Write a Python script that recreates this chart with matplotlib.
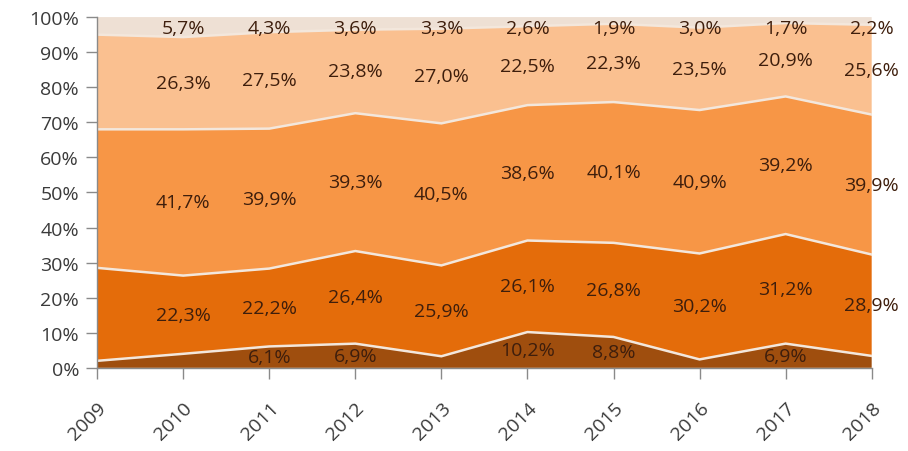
import matplotlib.pyplot as plt
import numpy as np

# ----------------------------
# Data (shares in %)
# ----------------------------
years = [2009, 2010, 2011, 2012, 2013, 2014, 2015, 2016, 2017, 2018]

layer1 = [2.0, 4.0, 6.1, 6.9, 3.3, 10.2, 8.8, 2.4, 6.9, 3.4]        # bottom, dark brown
layer2 = [26.5, 22.3, 22.2, 26.4, 25.9, 26.1, 26.8, 30.2, 31.2, 28.9]
layer3 = [39.5, 41.7, 39.9, 39.3, 40.5, 38.6, 40.1, 40.9, 39.2, 39.9]
layer4 = [27.0, 26.3, 27.5, 23.8, 27.0, 22.5, 22.3, 23.5, 20.9, 25.6]
layer5 = [5.0, 5.7, 4.3, 3.6, 3.3, 2.6, 1.9, 3.0, 1.7, 2.2]          # top, light

y_ticks = [0, 10, 20, 30, 40, 50, 60, 70, 80, 90, 100]

colors = ['#9F4E0E', '#E46C0A', '#F79646', '#FAC090', '#EEE0D4']
line_color = '#F3E7DC'
text_color = '#3E1E0C'
tick_color = '#3A3A3A'

layers = np.array([layer1, layer2, layer3, layer4, layer5], dtype=float)
# 100% stacked
layers = layers / layers.sum(axis=0) * 100
raw = np.array([layer1, layer2, layer3, layer4, layer5])

fig = plt.figure(figsize=(9.08, 4.52), dpi=100)
ax = fig.add_axes([0.107, 0.184, 0.853, 0.776])

ax.stackplot(years, layers, colors=colors, linewidth=0)

# separator lines between layers
cum = np.cumsum(layers, axis=0)
for k in range(4):
    ax.plot(years, cum[k], color=line_color, linewidth=1.8, solid_joinstyle='miter')

# data labels (no labels on the first year, bottom layer only if wide enough)
bottoms = np.vstack([np.zeros(len(years)), cum[:-1]])
for k in range(5):
    for i in range(1, len(years)):
        val = raw[k, i]
        if k == 0 and val < 5:
            continue
        yc = bottoms[k, i] + layers[k, i] / 2
        if k == 4:
            yc = min(yc, 96.8)
        if k == 0:
            yc = max(yc, 2.8)
        lab = f'{val:.1f}%'.replace('.', ',')
        ax.text(years[i], yc, lab, ha='center', va='center',
                fontsize=14, color=text_color, family='Open Sans')

ax.set_xlim(2009, 2018)
ax.set_ylim(0, 100)
ax.set_xticks(years)
ax.set_xticklabels([str(y) for y in years], rotation=45, ha='right',
                   rotation_mode='anchor', fontsize=14, color=tick_color,
                   family='Open Sans')
ax.set_yticks(y_ticks)
ax.set_yticklabels([f'{t}%' for t in y_ticks], fontsize=14, color=tick_color,
                   family='Open Sans')

for side in ['top', 'right']:
    ax.spines[side].set_visible(False)
for side in ['left', 'bottom']:
    ax.spines[side].set_color('#8A8A8A')
    ax.spines[side].set_linewidth(1.0)
ax.tick_params(axis='both', direction='out', length=8, color='#8A8A8A', width=1.0)
ax.tick_params(axis='x', pad=14)
ax.tick_params(axis='y', pad=5)

fig.savefig('out.png', dpi=100)
